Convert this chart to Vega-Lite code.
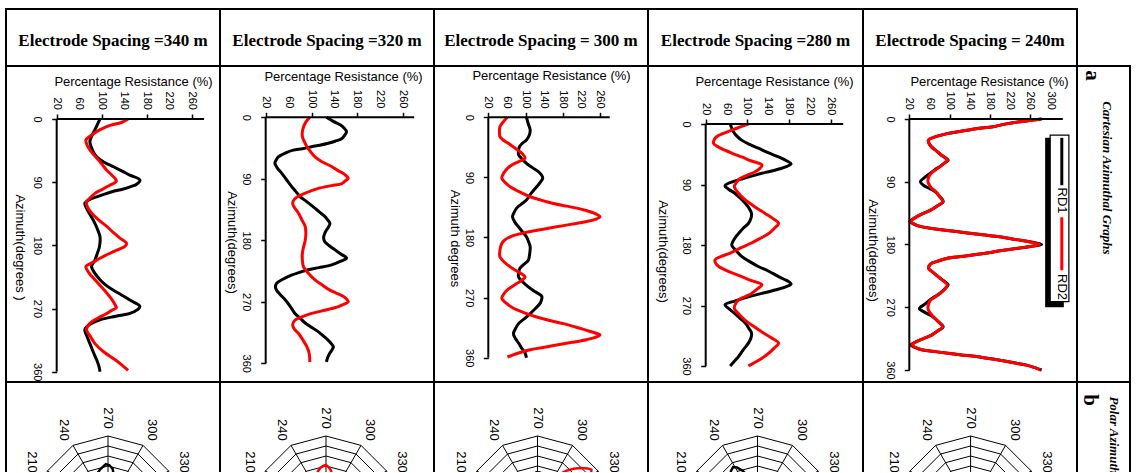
{
"$schema":"https://vega.github.io/schema/vega-lite/v6.json",
"padding":{"left":5,"top":8,"right":0,"bottom":0},
"bounds":"flush",
"spacing":0,
"columns":6,
"config":{
 "view":{"stroke":"black","strokeWidth":2},
 "font":"Liberation Sans",
 "concat":{"spacing":0},
 "axis":{"domain":false,"grid":false,"tickColor":"black","tickWidth":1.5,"tickSize":5,"labelFont":"Liberation Sans","labelFontSize":11,"labelColor":"black","labelFlush":false,"labelOverlap":false,"labelBound":false,"titleFont":"Liberation Sans","titleFontSize":13,"titleFontWeight":"normal","titleColor":"black"}
},
"datasets":{
"xticks":[{"v":20,"az":-13},{"v":60,"az":-13},{"v":100,"az":-13},{"v":140,"az":-13},{"v":180,"az":-13},{"v":220,"az":-13},{"v":260,"az":-13}],
"xticks5":[{"v":20,"az":-13},{"v":60,"az":-13},{"v":100,"az":-13},{"v":140,"az":-13},{"v":180,"az":-13},{"v":220,"az":-13},{"v":260,"az":-13},{"v":300,"az":-13}],
"grid":[
{"k":"ring","r":40,"az":180},{"k":"ring","r":40,"az":210},{"k":"ring","r":40,"az":240},{"k":"ring","r":40,"az":270},{"k":"ring","r":40,"az":300},{"k":"ring","r":40,"az":330},{"k":"ring","r":40,"az":360},
{"k":"ring","r":80,"az":180},{"k":"ring","r":80,"az":210},{"k":"ring","r":80,"az":240},{"k":"ring","r":80,"az":270},{"k":"ring","r":80,"az":300},{"k":"ring","r":80,"az":330},{"k":"ring","r":80,"az":360},
{"k":"ring","r":120,"az":180},{"k":"ring","r":120,"az":210},{"k":"ring","r":120,"az":240},{"k":"ring","r":120,"az":270},{"k":"ring","r":120,"az":300},{"k":"ring","r":120,"az":330},{"k":"ring","r":120,"az":360},
{"k":"ring","r":160,"az":180},{"k":"ring","r":160,"az":210},{"k":"ring","r":160,"az":240},{"k":"ring","r":160,"az":270},{"k":"ring","r":160,"az":300},{"k":"ring","r":160,"az":330},{"k":"ring","r":160,"az":360},
{"k":"ring","r":200,"az":180},{"k":"ring","r":200,"az":210},{"k":"ring","r":200,"az":240},{"k":"ring","r":200,"az":270},{"k":"ring","r":200,"az":300},{"k":"ring","r":200,"az":330},{"k":"ring","r":200,"az":360},
{"k":"ring","r":240,"az":180},{"k":"ring","r":240,"az":210},{"k":"ring","r":240,"az":240},{"k":"ring","r":240,"az":270},{"k":"ring","r":240,"az":300},{"k":"ring","r":240,"az":330},{"k":"ring","r":240,"az":360},
{"k":"ring","r":280,"az":180},{"k":"ring","r":280,"az":210},{"k":"ring","r":280,"az":240},{"k":"ring","r":280,"az":270},{"k":"ring","r":280,"az":300},{"k":"ring","r":280,"az":330},{"k":"ring","r":280,"az":360},
{"k":"spoke","r":0,"az":210},{"k":"spoke","r":280,"az":210},{"k":"spoke","r":0,"az":240},{"k":"spoke","r":280,"az":240},{"k":"spoke","r":0,"az":270},{"k":"spoke","r":280,"az":270},{"k":"spoke","r":0,"az":300},{"k":"spoke","r":280,"az":300},{"k":"spoke","r":0,"az":330},{"k":"spoke","r":280,"az":330},
{"k":"label","r":352,"az":210,"t":"210"},{"k":"label","r":352,"az":240,"t":"240"},{"k":"label","r":352,"az":270,"t":"270"},{"k":"label","r":352,"az":300,"t":"300"},{"k":"label","r":352,"az":330,"t":"330"}
],
"curves":[
{"p":"340","s":"RD1","az":0,"v":97},{"p":"340","s":"RD1","az":12,"v":90},{"p":"340","s":"RD1","az":25,"v":82},{"p":"340","s":"RD1","az":32,"v":79},{"p":"340","s":"RD1","az":45,"v":84},{"p":"340","s":"RD1","az":54,"v":91},{"p":"340","s":"RD1","az":62,"v":105},{"p":"340","s":"RD1","az":68,"v":121},{"p":"340","s":"RD1","az":75,"v":138},{"p":"340","s":"RD1","az":80,"v":150},{"p":"340","s":"RD1","az":87,"v":168},{"p":"340","s":"RD1","az":93,"v":162},{"p":"340","s":"RD1","az":96,"v":153},{"p":"340","s":"RD1","az":100,"v":137},{"p":"340","s":"RD1","az":103,"v":121},{"p":"340","s":"RD1","az":107,"v":105},{"p":"340","s":"RD1","az":111,"v":91},{"p":"340","s":"RD1","az":115,"v":78},{"p":"340","s":"RD1","az":120,"v":70},{"p":"340","s":"RD1","az":130,"v":75},{"p":"340","s":"RD1","az":144,"v":85},{"p":"340","s":"RD1","az":156,"v":92},{"p":"340","s":"RD1","az":168,"v":97},{"p":"340","s":"RD1","az":182,"v":96},{"p":"340","s":"RD1","az":192,"v":92},{"p":"340","s":"RD1","az":201,"v":88},{"p":"340","s":"RD1","az":210,"v":82},{"p":"340","s":"RD1","az":220,"v":88},{"p":"340","s":"RD1","az":229,"v":97},{"p":"340","s":"RD1","az":237,"v":108},{"p":"340","s":"RD1","az":244,"v":121},{"p":"340","s":"RD1","az":251,"v":136},{"p":"340","s":"RD1","az":258,"v":150},{"p":"340","s":"RD1","az":267,"v":168},{"p":"340","s":"RD1","az":272,"v":163},{"p":"340","s":"RD1","az":277,"v":150},{"p":"340","s":"RD1","az":281,"v":125},{"p":"340","s":"RD1","az":286,"v":97},{"p":"340","s":"RD1","az":292,"v":80},{"p":"340","s":"RD1","az":300,"v":70},{"p":"340","s":"RD1","az":310,"v":74},{"p":"340","s":"RD1","az":320,"v":79},{"p":"340","s":"RD1","az":332,"v":85},{"p":"340","s":"RD1","az":343,"v":91},{"p":"340","s":"RD1","az":352,"v":95},{"p":"340","s":"RD1","az":360,"v":97},
{"p":"340","s":"RD2","az":0,"v":147},{"p":"340","s":"RD2","az":5,"v":135},{"p":"340","s":"RD2","az":9,"v":115},{"p":"340","s":"RD2","az":14,"v":100},{"p":"340","s":"RD2","az":18,"v":91},{"p":"340","s":"RD2","az":24,"v":80},{"p":"340","s":"RD2","az":30,"v":72},{"p":"340","s":"RD2","az":37,"v":74},{"p":"340","s":"RD2","az":44,"v":79},{"p":"340","s":"RD2","az":51,"v":86},{"p":"340","s":"RD2","az":58,"v":94},{"p":"340","s":"RD2","az":66,"v":102},{"p":"340","s":"RD2","az":73,"v":109},{"p":"340","s":"RD2","az":80,"v":118},{"p":"340","s":"RD2","az":85,"v":124},{"p":"340","s":"RD2","az":89,"v":126},{"p":"340","s":"RD2","az":94,"v":115},{"p":"340","s":"RD2","az":100,"v":102},{"p":"340","s":"RD2","az":106,"v":88},{"p":"340","s":"RD2","az":112,"v":80},{"p":"340","s":"RD2","az":118,"v":73},{"p":"340","s":"RD2","az":126,"v":75},{"p":"340","s":"RD2","az":134,"v":82},{"p":"340","s":"RD2","az":144,"v":95},{"p":"340","s":"RD2","az":153,"v":109},{"p":"340","s":"RD2","az":162,"v":121},{"p":"340","s":"RD2","az":170,"v":133},{"p":"340","s":"RD2","az":177,"v":144},{"p":"340","s":"RD2","az":181,"v":142},{"p":"340","s":"RD2","az":185,"v":132},{"p":"340","s":"RD2","az":189,"v":121},{"p":"340","s":"RD2","az":195,"v":105},{"p":"340","s":"RD2","az":201,"v":91},{"p":"340","s":"RD2","az":206,"v":80},{"p":"340","s":"RD2","az":210,"v":72},{"p":"340","s":"RD2","az":220,"v":78},{"p":"340","s":"RD2","az":229,"v":88},{"p":"340","s":"RD2","az":238,"v":98},{"p":"340","s":"RD2","az":248,"v":109},{"p":"340","s":"RD2","az":256,"v":117},{"p":"340","s":"RD2","az":265,"v":124},{"p":"340","s":"RD2","az":269,"v":126},{"p":"340","s":"RD2","az":273,"v":117},{"p":"340","s":"RD2","az":277,"v":109},{"p":"340","s":"RD2","az":284,"v":93},{"p":"340","s":"RD2","az":291,"v":79},{"p":"340","s":"RD2","az":300,"v":73},{"p":"340","s":"RD2","az":310,"v":80},{"p":"340","s":"RD2","az":320,"v":88},{"p":"340","s":"RD2","az":332,"v":104},{"p":"340","s":"RD2","az":343,"v":124},{"p":"340","s":"RD2","az":352,"v":138},{"p":"340","s":"RD2","az":358,"v":147},
{"p":"320","s":"RD1","az":0,"v":126},{"p":"320","s":"RD1","az":6,"v":138},{"p":"320","s":"RD1","az":11,"v":150},{"p":"320","s":"RD1","az":16,"v":157},{"p":"320","s":"RD1","az":21,"v":161},{"p":"320","s":"RD1","az":26,"v":158},{"p":"320","s":"RD1","az":31,"v":153},{"p":"320","s":"RD1","az":35,"v":141},{"p":"320","s":"RD1","az":38,"v":129},{"p":"320","s":"RD1","az":41,"v":114},{"p":"320","s":"RD1","az":43,"v":100},{"p":"320","s":"RD1","az":46,"v":84},{"p":"320","s":"RD1","az":48,"v":68},{"p":"320","s":"RD1","az":52,"v":55},{"p":"320","s":"RD1","az":58,"v":42},{"p":"320","s":"RD1","az":63,"v":38},{"p":"320","s":"RD1","az":67,"v":36},{"p":"320","s":"RD1","az":74,"v":40},{"p":"320","s":"RD1","az":82,"v":48},{"p":"320","s":"RD1","az":91,"v":56},{"p":"320","s":"RD1","az":101,"v":65},{"p":"320","s":"RD1","az":108,"v":72},{"p":"320","s":"RD1","az":116,"v":80},{"p":"320","s":"RD1","az":123,"v":91},{"p":"320","s":"RD1","az":131,"v":103},{"p":"320","s":"RD1","az":138,"v":113},{"p":"320","s":"RD1","az":145,"v":123},{"p":"320","s":"RD1","az":150,"v":128},{"p":"320","s":"RD1","az":155,"v":132},{"p":"320","s":"RD1","az":160,"v":130},{"p":"320","s":"RD1","az":165,"v":126},{"p":"320","s":"RD1","az":170,"v":123},{"p":"320","s":"RD1","az":176,"v":121},{"p":"320","s":"RD1","az":182,"v":123},{"p":"320","s":"RD1","az":188,"v":131},{"p":"320","s":"RD1","az":194,"v":141},{"p":"320","s":"RD1","az":200,"v":151},{"p":"320","s":"RD1","az":206,"v":161},{"p":"320","s":"RD1","az":211,"v":150},{"p":"320","s":"RD1","az":216,"v":135},{"p":"320","s":"RD1","az":220,"v":113},{"p":"320","s":"RD1","az":223,"v":94},{"p":"320","s":"RD1","az":227,"v":79},{"p":"320","s":"RD1","az":231,"v":65},{"p":"320","s":"RD1","az":237,"v":50},{"p":"320","s":"RD1","az":243,"v":39},{"p":"320","s":"RD1","az":248,"v":37},{"p":"320","s":"RD1","az":253,"v":39},{"p":"320","s":"RD1","az":260,"v":46},{"p":"320","s":"RD1","az":267,"v":54},{"p":"320","s":"RD1","az":277,"v":63},{"p":"320","s":"RD1","az":287,"v":71},{"p":"320","s":"RD1","az":294,"v":80},{"p":"320","s":"RD1","az":301,"v":89},{"p":"320","s":"RD1","az":307,"v":99},{"p":"320","s":"RD1","az":314,"v":112},{"p":"320","s":"RD1","az":321,"v":122},{"p":"320","s":"RD1","az":329,"v":132},{"p":"320","s":"RD1","az":336,"v":138},{"p":"320","s":"RD1","az":340,"v":136},{"p":"320","s":"RD1","az":345,"v":132},{"p":"320","s":"RD1","az":352,"v":128},{"p":"320","s":"RD1","az":358,"v":126},
{"p":"320","s":"RD2","az":0,"v":97},{"p":"320","s":"RD2","az":7,"v":90},{"p":"320","s":"RD2","az":14,"v":86},{"p":"320","s":"RD2","az":21,"v":84},{"p":"320","s":"RD2","az":28,"v":84},{"p":"320","s":"RD2","az":35,"v":87},{"p":"320","s":"RD2","az":43,"v":92},{"p":"320","s":"RD2","az":50,"v":98},{"p":"320","s":"RD2","az":58,"v":106},{"p":"320","s":"RD2","az":65,"v":118},{"p":"320","s":"RD2","az":72,"v":135},{"p":"320","s":"RD2","az":78,"v":146},{"p":"320","s":"RD2","az":82,"v":155},{"p":"320","s":"RD2","az":86,"v":161},{"p":"320","s":"RD2","az":89,"v":164},{"p":"320","s":"RD2","az":93,"v":159},{"p":"320","s":"RD2","az":97,"v":153},{"p":"320","s":"RD2","az":100,"v":135},{"p":"320","s":"RD2","az":104,"v":112},{"p":"320","s":"RD2","az":108,"v":98},{"p":"320","s":"RD2","az":111,"v":89},{"p":"320","s":"RD2","az":115,"v":78},{"p":"320","s":"RD2","az":119,"v":71},{"p":"320","s":"RD2","az":126,"v":67},{"p":"320","s":"RD2","az":133,"v":71},{"p":"320","s":"RD2","az":140,"v":77},{"p":"320","s":"RD2","az":150,"v":83},{"p":"320","s":"RD2","az":160,"v":89},{"p":"320","s":"RD2","az":170,"v":90},{"p":"320","s":"RD2","az":180,"v":89},{"p":"320","s":"RD2","az":190,"v":86},{"p":"320","s":"RD2","az":199,"v":84},{"p":"320","s":"RD2","az":209,"v":84},{"p":"320","s":"RD2","az":219,"v":86},{"p":"320","s":"RD2","az":228,"v":94},{"p":"320","s":"RD2","az":238,"v":106},{"p":"320","s":"RD2","az":245,"v":118},{"p":"320","s":"RD2","az":253,"v":132},{"p":"320","s":"RD2","az":258,"v":145},{"p":"320","s":"RD2","az":262,"v":155},{"p":"320","s":"RD2","az":266,"v":161},{"p":"320","s":"RD2","az":270,"v":164},{"p":"320","s":"RD2","az":274,"v":155},{"p":"320","s":"RD2","az":277,"v":147},{"p":"320","s":"RD2","az":282,"v":125},{"p":"320","s":"RD2","az":287,"v":100},{"p":"320","s":"RD2","az":292,"v":83},{"p":"320","s":"RD2","az":297,"v":71},{"p":"320","s":"RD2","az":304,"v":67},{"p":"320","s":"RD2","az":310,"v":70},{"p":"320","s":"RD2","az":316,"v":77},{"p":"320","s":"RD2","az":326,"v":85},{"p":"320","s":"RD2","az":336,"v":92},{"p":"320","s":"RD2","az":346,"v":96},{"p":"320","s":"RD2","az":358,"v":97},
{"p":"300","s":"RD1","az":0,"v":102},{"p":"300","s":"RD1","az":10,"v":106},{"p":"300","s":"RD1","az":19,"v":110},{"p":"300","s":"RD1","az":27,"v":108},{"p":"300","s":"RD1","az":34,"v":102},{"p":"300","s":"RD1","az":39,"v":93},{"p":"300","s":"RD1","az":44,"v":87},{"p":"300","s":"RD1","az":50,"v":85},{"p":"300","s":"RD1","az":56,"v":85},{"p":"300","s":"RD1","az":62,"v":92},{"p":"300","s":"RD1","az":69,"v":102},{"p":"300","s":"RD1","az":75,"v":114},{"p":"300","s":"RD1","az":81,"v":127},{"p":"300","s":"RD1","az":86,"v":134},{"p":"300","s":"RD1","az":91,"v":137},{"p":"300","s":"RD1","az":97,"v":132},{"p":"300","s":"RD1","az":104,"v":124},{"p":"300","s":"RD1","az":114,"v":112},{"p":"300","s":"RD1","az":124,"v":102},{"p":"300","s":"RD1","az":130,"v":91},{"p":"300","s":"RD1","az":136,"v":81},{"p":"300","s":"RD1","az":143,"v":75},{"p":"300","s":"RD1","az":149,"v":72},{"p":"300","s":"RD1","az":157,"v":77},{"p":"300","s":"RD1","az":164,"v":85},{"p":"300","s":"RD1","az":172,"v":94},{"p":"300","s":"RD1","az":179,"v":102},{"p":"300","s":"RD1","az":187,"v":107},{"p":"300","s":"RD1","az":194,"v":110},{"p":"300","s":"RD1","az":204,"v":109},{"p":"300","s":"RD1","az":214,"v":106},{"p":"300","s":"RD1","az":220,"v":97},{"p":"300","s":"RD1","az":226,"v":88},{"p":"300","s":"RD1","az":233,"v":85},{"p":"300","s":"RD1","az":239,"v":85},{"p":"300","s":"RD1","az":246,"v":93},{"p":"300","s":"RD1","az":254,"v":106},{"p":"300","s":"RD1","az":261,"v":120},{"p":"300","s":"RD1","az":268,"v":135},{"p":"300","s":"RD1","az":274,"v":134},{"p":"300","s":"RD1","az":279,"v":131},{"p":"300","s":"RD1","az":287,"v":120},{"p":"300","s":"RD1","az":294,"v":110},{"p":"300","s":"RD1","az":302,"v":97},{"p":"300","s":"RD1","az":309,"v":85},{"p":"300","s":"RD1","az":317,"v":78},{"p":"300","s":"RD1","az":324,"v":74},{"p":"300","s":"RD1","az":331,"v":78},{"p":"300","s":"RD1","az":338,"v":85},{"p":"300","s":"RD1","az":346,"v":92},{"p":"300","s":"RD1","az":353,"v":99},{"p":"300","s":"RD1","az":360,"v":102},
{"p":"300","s":"RD2","az":0,"v":61},{"p":"300","s":"RD2","az":7,"v":52},{"p":"300","s":"RD2","az":14,"v":45},{"p":"300","s":"RD2","az":22,"v":44},{"p":"300","s":"RD2","az":29,"v":45},{"p":"300","s":"RD2","az":34,"v":52},{"p":"300","s":"RD2","az":39,"v":63},{"p":"300","s":"RD2","az":45,"v":75},{"p":"300","s":"RD2","az":51,"v":87},{"p":"300","s":"RD2","az":56,"v":95},{"p":"300","s":"RD2","az":61,"v":99},{"p":"300","s":"RD2","az":65,"v":90},{"p":"300","s":"RD2","az":69,"v":77},{"p":"300","s":"RD2","az":74,"v":65},{"p":"300","s":"RD2","az":79,"v":58},{"p":"300","s":"RD2","az":85,"v":52},{"p":"300","s":"RD2","az":91,"v":49},{"p":"300","s":"RD2","az":97,"v":55},{"p":"300","s":"RD2","az":104,"v":67},{"p":"300","s":"RD2","az":111,"v":85},{"p":"300","s":"RD2","az":119,"v":110},{"p":"300","s":"RD2","az":124,"v":133},{"p":"300","s":"RD2","az":129,"v":160},{"p":"300","s":"RD2","az":133,"v":188},{"p":"300","s":"RD2","az":136,"v":210},{"p":"300","s":"RD2","az":140,"v":232},{"p":"300","s":"RD2","az":144,"v":249},{"p":"300","s":"RD2","az":149,"v":260},{"p":"300","s":"RD2","az":153,"v":250},{"p":"300","s":"RD2","az":156,"v":231},{"p":"300","s":"RD2","az":160,"v":200},{"p":"300","s":"RD2","az":164,"v":167},{"p":"300","s":"RD2","az":168,"v":135},{"p":"300","s":"RD2","az":171,"v":110},{"p":"300","s":"RD2","az":175,"v":85},{"p":"300","s":"RD2","az":179,"v":67},{"p":"300","s":"RD2","az":184,"v":55},{"p":"300","s":"RD2","az":189,"v":49},{"p":"300","s":"RD2","az":199,"v":45},{"p":"300","s":"RD2","az":209,"v":45},{"p":"300","s":"RD2","az":216,"v":53},{"p":"300","s":"RD2","az":224,"v":67},{"p":"300","s":"RD2","az":231,"v":83},{"p":"300","s":"RD2","az":239,"v":99},{"p":"300","s":"RD2","az":244,"v":92},{"p":"300","s":"RD2","az":249,"v":81},{"p":"300","s":"RD2","az":254,"v":70},{"p":"300","s":"RD2","az":259,"v":60},{"p":"300","s":"RD2","az":265,"v":53},{"p":"300","s":"RD2","az":271,"v":49},{"p":"300","s":"RD2","az":278,"v":58},{"p":"300","s":"RD2","az":286,"v":74},{"p":"300","s":"RD2","az":292,"v":95},{"p":"300","s":"RD2","az":299,"v":124},{"p":"300","s":"RD2","az":304,"v":150},{"p":"300","s":"RD2","az":309,"v":181},{"p":"300","s":"RD2","az":314,"v":207},{"p":"300","s":"RD2","az":319,"v":231},{"p":"300","s":"RD2","az":323,"v":250},{"p":"300","s":"RD2","az":326,"v":260},{"p":"300","s":"RD2","az":330,"v":248},{"p":"300","s":"RD2","az":333,"v":231},{"p":"300","s":"RD2","az":337,"v":200},{"p":"300","s":"RD2","az":341,"v":167},{"p":"300","s":"RD2","az":345,"v":135},{"p":"300","s":"RD2","az":348,"v":110},{"p":"300","s":"RD2","az":353,"v":85},{"p":"300","s":"RD2","az":359,"v":61},
{"p":"280","s":"RD1","az":0,"v":67},{"p":"280","s":"RD1","az":11,"v":73},{"p":"280","s":"RD1","az":18,"v":80},{"p":"280","s":"RD1","az":24,"v":89},{"p":"280","s":"RD1","az":30,"v":103},{"p":"280","s":"RD1","az":36,"v":121},{"p":"280","s":"RD1","az":43,"v":141},{"p":"280","s":"RD1","az":49,"v":160},{"p":"280","s":"RD1","az":55,"v":176},{"p":"280","s":"RD1","az":59,"v":184},{"p":"280","s":"RD1","az":63,"v":176},{"p":"280","s":"RD1","az":68,"v":156},{"p":"280","s":"RD1","az":72,"v":135},{"p":"280","s":"RD1","az":76,"v":115},{"p":"280","s":"RD1","az":81,"v":92},{"p":"280","s":"RD1","az":86,"v":71},{"p":"280","s":"RD1","az":92,"v":57},{"p":"280","s":"RD1","az":97,"v":64},{"p":"280","s":"RD1","az":103,"v":76},{"p":"280","s":"RD1","az":110,"v":86},{"p":"280","s":"RD1","az":118,"v":96},{"p":"280","s":"RD1","az":125,"v":103},{"p":"280","s":"RD1","az":133,"v":108},{"p":"280","s":"RD1","az":140,"v":107},{"p":"280","s":"RD1","az":148,"v":102},{"p":"280","s":"RD1","az":155,"v":92},{"p":"280","s":"RD1","az":163,"v":83},{"p":"280","s":"RD1","az":171,"v":75},{"p":"280","s":"RD1","az":180,"v":70},{"p":"280","s":"RD1","az":188,"v":78},{"p":"280","s":"RD1","az":197,"v":89},{"p":"280","s":"RD1","az":204,"v":103},{"p":"280","s":"RD1","az":212,"v":121},{"p":"280","s":"RD1","az":219,"v":141},{"p":"280","s":"RD1","az":227,"v":160},{"p":"280","s":"RD1","az":233,"v":176},{"p":"280","s":"RD1","az":238,"v":184},{"p":"280","s":"RD1","az":242,"v":175},{"p":"280","s":"RD1","az":247,"v":153},{"p":"280","s":"RD1","az":252,"v":128},{"p":"280","s":"RD1","az":257,"v":102},{"p":"280","s":"RD1","az":263,"v":77},{"p":"280","s":"RD1","az":269,"v":57},{"p":"280","s":"RD1","az":275,"v":65},{"p":"280","s":"RD1","az":282,"v":76},{"p":"280","s":"RD1","az":289,"v":86},{"p":"280","s":"RD1","az":296,"v":96},{"p":"280","s":"RD1","az":303,"v":102},{"p":"280","s":"RD1","az":311,"v":108},{"p":"280","s":"RD1","az":318,"v":107},{"p":"280","s":"RD1","az":326,"v":102},{"p":"280","s":"RD1","az":336,"v":92},{"p":"280","s":"RD1","az":346,"v":83},{"p":"280","s":"RD1","az":353,"v":75},{"p":"280","s":"RD1","az":360,"v":67},
{"p":"280","s":"RD2","az":0,"v":102},{"p":"280","s":"RD2","az":4,"v":88},{"p":"280","s":"RD2","az":9,"v":70},{"p":"280","s":"RD2","az":14,"v":54},{"p":"280","s":"RD2","az":19,"v":41},{"p":"280","s":"RD2","az":24,"v":36},{"p":"280","s":"RD2","az":29,"v":35},{"p":"280","s":"RD2","az":34,"v":44},{"p":"280","s":"RD2","az":39,"v":57},{"p":"280","s":"RD2","az":44,"v":72},{"p":"280","s":"RD2","az":49,"v":89},{"p":"280","s":"RD2","az":55,"v":108},{"p":"280","s":"RD2","az":61,"v":128},{"p":"280","s":"RD2","az":66,"v":124},{"p":"280","s":"RD2","az":71,"v":115},{"p":"280","s":"RD2","az":76,"v":100},{"p":"280","s":"RD2","az":81,"v":86},{"p":"280","s":"RD2","az":87,"v":79},{"p":"280","s":"RD2","az":93,"v":75},{"p":"280","s":"RD2","az":103,"v":83},{"p":"280","s":"RD2","az":113,"v":96},{"p":"280","s":"RD2","az":123,"v":114},{"p":"280","s":"RD2","az":133,"v":134},{"p":"280","s":"RD2","az":140,"v":148},{"p":"280","s":"RD2","az":148,"v":160},{"p":"280","s":"RD2","az":155,"v":152},{"p":"280","s":"RD2","az":163,"v":141},{"p":"280","s":"RD2","az":170,"v":125},{"p":"280","s":"RD2","az":177,"v":108},{"p":"280","s":"RD2","az":184,"v":88},{"p":"280","s":"RD2","az":192,"v":67},{"p":"280","s":"RD2","az":197,"v":50},{"p":"280","s":"RD2","az":202,"v":38},{"p":"280","s":"RD2","az":207,"v":39},{"p":"280","s":"RD2","az":212,"v":45},{"p":"280","s":"RD2","az":220,"v":66},{"p":"280","s":"RD2","az":227,"v":89},{"p":"280","s":"RD2","az":233,"v":108},{"p":"280","s":"RD2","az":239,"v":128},{"p":"280","s":"RD2","az":245,"v":120},{"p":"280","s":"RD2","az":252,"v":108},{"p":"280","s":"RD2","az":257,"v":95},{"p":"280","s":"RD2","az":262,"v":83},{"p":"280","s":"RD2","az":268,"v":77},{"p":"280","s":"RD2","az":274,"v":75},{"p":"280","s":"RD2","az":283,"v":84},{"p":"280","s":"RD2","az":292,"v":96},{"p":"280","s":"RD2","az":301,"v":112},{"p":"280","s":"RD2","az":311,"v":131},{"p":"280","s":"RD2","az":318,"v":146},{"p":"280","s":"RD2","az":326,"v":160},{"p":"280","s":"RD2","az":333,"v":152},{"p":"280","s":"RD2","az":341,"v":141},{"p":"280","s":"RD2","az":350,"v":125},{"p":"280","s":"RD2","az":360,"v":102},
{"p":"240","s":"RD1","az":0,"v":282},{"p":"240","s":"RD1","az":2,"v":262},{"p":"240","s":"RD1","az":4,"v":239},{"p":"240","s":"RD1","az":7,"v":212},{"p":"240","s":"RD1","az":11,"v":186},{"p":"240","s":"RD1","az":14,"v":152},{"p":"240","s":"RD1","az":18,"v":120},{"p":"240","s":"RD1","az":21,"v":95},{"p":"240","s":"RD1","az":25,"v":74},{"p":"240","s":"RD1","az":30,"v":58},{"p":"240","s":"RD1","az":35,"v":59},{"p":"240","s":"RD1","az":40,"v":64},{"p":"240","s":"RD1","az":46,"v":74},{"p":"240","s":"RD1","az":52,"v":84},{"p":"240","s":"RD1","az":56,"v":92},{"p":"240","s":"RD1","az":59,"v":97},{"p":"240","s":"RD1","az":63,"v":90},{"p":"240","s":"RD1","az":68,"v":81},{"p":"240","s":"RD1","az":73,"v":70},{"p":"240","s":"RD1","az":78,"v":61},{"p":"240","s":"RD1","az":84,"v":50},{"p":"240","s":"RD1","az":90,"v":42},{"p":"240","s":"RD1","az":95,"v":48},{"p":"240","s":"RD1","az":99,"v":58},{"p":"240","s":"RD1","az":104,"v":71},{"p":"240","s":"RD1","az":111,"v":80},{"p":"240","s":"RD1","az":116,"v":86},{"p":"240","s":"RD1","az":119,"v":87},{"p":"240","s":"RD1","az":124,"v":77},{"p":"240","s":"RD1","az":130,"v":64},{"p":"240","s":"RD1","az":135,"v":49},{"p":"240","s":"RD1","az":140,"v":35},{"p":"240","s":"RD1","az":144,"v":26},{"p":"240","s":"RD1","az":147,"v":21},{"p":"240","s":"RD1","az":151,"v":30},{"p":"240","s":"RD1","az":154,"v":41},{"p":"240","s":"RD1","az":158,"v":75},{"p":"240","s":"RD1","az":162,"v":120},{"p":"240","s":"RD1","az":166,"v":165},{"p":"240","s":"RD1","az":169,"v":199},{"p":"240","s":"RD1","az":173,"v":232},{"p":"240","s":"RD1","az":176,"v":259},{"p":"240","s":"RD1","az":180,"v":282},{"p":"240","s":"RD1","az":183,"v":260},{"p":"240","s":"RD1","az":185,"v":239},{"p":"240","s":"RD1","az":189,"v":200},{"p":"240","s":"RD1","az":193,"v":167},{"p":"240","s":"RD1","az":197,"v":128},{"p":"240","s":"RD1","az":200,"v":94},{"p":"240","s":"RD1","az":204,"v":76},{"p":"240","s":"RD1","az":207,"v":64},{"p":"240","s":"RD1","az":211,"v":59},{"p":"240","s":"RD1","az":214,"v":58},{"p":"240","s":"RD1","az":220,"v":67},{"p":"240","s":"RD1","az":226,"v":77},{"p":"240","s":"RD1","az":232,"v":88},{"p":"240","s":"RD1","az":238,"v":97},{"p":"240","s":"RD1","az":244,"v":90},{"p":"240","s":"RD1","az":250,"v":81},{"p":"240","s":"RD1","az":255,"v":70},{"p":"240","s":"RD1","az":260,"v":60},{"p":"240","s":"RD1","az":266,"v":50},{"p":"240","s":"RD1","az":272,"v":40},{"p":"240","s":"RD1","az":277,"v":50},{"p":"240","s":"RD1","az":283,"v":65},{"p":"240","s":"RD1","az":291,"v":78},{"p":"240","s":"RD1","az":298,"v":87},{"p":"240","s":"RD1","az":304,"v":76},{"p":"240","s":"RD1","az":310,"v":64},{"p":"240","s":"RD1","az":315,"v":48},{"p":"240","s":"RD1","az":319,"v":35},{"p":"240","s":"RD1","az":322,"v":27},{"p":"240","s":"RD1","az":324,"v":23},{"p":"240","s":"RD1","az":328,"v":32},{"p":"240","s":"RD1","az":331,"v":44},{"p":"240","s":"RD1","az":334,"v":75},{"p":"240","s":"RD1","az":338,"v":120},{"p":"240","s":"RD1","az":342,"v":165},{"p":"240","s":"RD1","az":346,"v":199},{"p":"240","s":"RD1","az":350,"v":230},{"p":"240","s":"RD1","az":353,"v":252},{"p":"240","s":"RD1","az":357,"v":270},{"p":"240","s":"RD1","az":360,"v":282},
{"p":"240","s":"RD2","az":0,"v":282},{"p":"240","s":"RD2","az":2,"v":262},{"p":"240","s":"RD2","az":4,"v":239},{"p":"240","s":"RD2","az":7,"v":212},{"p":"240","s":"RD2","az":11,"v":186},{"p":"240","s":"RD2","az":14,"v":152},{"p":"240","s":"RD2","az":18,"v":120},{"p":"240","s":"RD2","az":21,"v":95},{"p":"240","s":"RD2","az":25,"v":74},{"p":"240","s":"RD2","az":30,"v":58},{"p":"240","s":"RD2","az":35,"v":59},{"p":"240","s":"RD2","az":40,"v":64},{"p":"240","s":"RD2","az":46,"v":74},{"p":"240","s":"RD2","az":52,"v":84},{"p":"240","s":"RD2","az":56,"v":92},{"p":"240","s":"RD2","az":59,"v":96},{"p":"240","s":"RD2","az":63,"v":90},{"p":"240","s":"RD2","az":68,"v":81},{"p":"240","s":"RD2","az":73,"v":72},{"p":"240","s":"RD2","az":78,"v":63},{"p":"240","s":"RD2","az":84,"v":58},{"p":"240","s":"RD2","az":90,"v":57},{"p":"240","s":"RD2","az":95,"v":60},{"p":"240","s":"RD2","az":99,"v":64},{"p":"240","s":"RD2","az":104,"v":72},{"p":"240","s":"RD2","az":111,"v":80},{"p":"240","s":"RD2","az":116,"v":85},{"p":"240","s":"RD2","az":119,"v":86},{"p":"240","s":"RD2","az":124,"v":77},{"p":"240","s":"RD2","az":130,"v":64},{"p":"240","s":"RD2","az":135,"v":49},{"p":"240","s":"RD2","az":140,"v":35},{"p":"240","s":"RD2","az":144,"v":27},{"p":"240","s":"RD2","az":147,"v":23},{"p":"240","s":"RD2","az":151,"v":31},{"p":"240","s":"RD2","az":154,"v":42},{"p":"240","s":"RD2","az":158,"v":75},{"p":"240","s":"RD2","az":162,"v":120},{"p":"240","s":"RD2","az":166,"v":165},{"p":"240","s":"RD2","az":169,"v":199},{"p":"240","s":"RD2","az":173,"v":232},{"p":"240","s":"RD2","az":176,"v":257},{"p":"240","s":"RD2","az":180,"v":278},{"p":"240","s":"RD2","az":183,"v":258},{"p":"240","s":"RD2","az":185,"v":239},{"p":"240","s":"RD2","az":189,"v":200},{"p":"240","s":"RD2","az":193,"v":167},{"p":"240","s":"RD2","az":197,"v":128},{"p":"240","s":"RD2","az":200,"v":94},{"p":"240","s":"RD2","az":204,"v":76},{"p":"240","s":"RD2","az":207,"v":64},{"p":"240","s":"RD2","az":211,"v":59},{"p":"240","s":"RD2","az":214,"v":58},{"p":"240","s":"RD2","az":220,"v":67},{"p":"240","s":"RD2","az":226,"v":77},{"p":"240","s":"RD2","az":232,"v":87},{"p":"240","s":"RD2","az":238,"v":95},{"p":"240","s":"RD2","az":244,"v":90},{"p":"240","s":"RD2","az":250,"v":81},{"p":"240","s":"RD2","az":255,"v":72},{"p":"240","s":"RD2","az":260,"v":62},{"p":"240","s":"RD2","az":266,"v":58},{"p":"240","s":"RD2","az":272,"v":57},{"p":"240","s":"RD2","az":277,"v":60},{"p":"240","s":"RD2","az":283,"v":67},{"p":"240","s":"RD2","az":291,"v":78},{"p":"240","s":"RD2","az":298,"v":86},{"p":"240","s":"RD2","az":304,"v":76},{"p":"240","s":"RD2","az":310,"v":64},{"p":"240","s":"RD2","az":315,"v":48},{"p":"240","s":"RD2","az":319,"v":35},{"p":"240","s":"RD2","az":322,"v":28},{"p":"240","s":"RD2","az":324,"v":25},{"p":"240","s":"RD2","az":328,"v":33},{"p":"240","s":"RD2","az":331,"v":45},{"p":"240","s":"RD2","az":334,"v":75},{"p":"240","s":"RD2","az":338,"v":120},{"p":"240","s":"RD2","az":342,"v":165},{"p":"240","s":"RD2","az":346,"v":199},{"p":"240","s":"RD2","az":350,"v":230},{"p":"240","s":"RD2","az":353,"v":252},{"p":"240","s":"RD2","az":357,"v":270},{"p":"240","s":"RD2","az":360,"v":280}
]
},
"concat":[
 {"width":214,"height":57,"data":{"values":[{"t":"Electrode Spacing =340 m"}]},"mark":{"type":"text","font":"Liberation Serif","fontWeight":"bold","fontSize":17,"dy":3,"color":"black"},"encoding":{"text":{"field":"t","type":"nominal"},"x":{"datum":0.5,"type":"quantitative","scale":{"domain":[0,1],"nice":false,"zero":false},"axis":null},"y":{"datum":0.5,"type":"quantitative","scale":{"domain":[0,1],"nice":false,"zero":false},"axis":null}}},
 {"width":214,"height":57,"data":{"values":[{"t":"Electrode Spacing =320 m"}]},"mark":{"type":"text","font":"Liberation Serif","fontWeight":"bold","fontSize":17,"dy":3,"color":"black"},"encoding":{"text":{"field":"t","type":"nominal"},"x":{"datum":0.5,"type":"quantitative","scale":{"domain":[0,1],"nice":false,"zero":false},"axis":null},"y":{"datum":0.5,"type":"quantitative","scale":{"domain":[0,1],"nice":false,"zero":false},"axis":null}}},
 {"width":214,"height":57,"data":{"values":[{"t":"Electrode Spacing = 300 m"}]},"mark":{"type":"text","font":"Liberation Serif","fontWeight":"bold","fontSize":17,"dy":3,"color":"black"},"encoding":{"text":{"field":"t","type":"nominal"},"x":{"datum":0.5,"type":"quantitative","scale":{"domain":[0,1],"nice":false,"zero":false},"axis":null},"y":{"datum":0.5,"type":"quantitative","scale":{"domain":[0,1],"nice":false,"zero":false},"axis":null}}},
 {"width":215,"height":57,"data":{"values":[{"t":"Electrode Spacing =280 m"}]},"mark":{"type":"text","font":"Liberation Serif","fontWeight":"bold","fontSize":17,"dy":3,"color":"black"},"encoding":{"text":{"field":"t","type":"nominal"},"x":{"datum":0.5,"type":"quantitative","scale":{"domain":[0,1],"nice":false,"zero":false},"axis":null},"y":{"datum":0.5,"type":"quantitative","scale":{"domain":[0,1],"nice":false,"zero":false},"axis":null}}},
 {"width":214,"height":57,"data":{"values":[{"t":"Electrode Spacing = 240m"}]},"mark":{"type":"text","font":"Liberation Serif","fontWeight":"bold","fontSize":17,"dy":3,"color":"black"},"encoding":{"text":{"field":"t","type":"nominal"},"x":{"datum":0.5,"type":"quantitative","scale":{"domain":[0,1],"nice":false,"zero":false},"axis":null},"y":{"datum":0.5,"type":"quantitative","scale":{"domain":[0,1],"nice":false,"zero":false},"axis":null}}},
 {"width":53,"height":57,"view":{"stroke":null},"data":{"values":[{"t":""}]},"mark":{"type":"text"},"encoding":{"text":{"field":"t","type":"nominal"}}},
 {"width":214,"height":316,"layer":[
  {"data":{"name":"curves"},"transform":[{"filter":"datum.p=='340'"}],"mark":{"type":"line","strokeWidth":3,"interpolate":"catmull-rom"},
   "encoding":{
    "x":{"field":"v","type":"quantitative","scale":{"domain":[-70.1,310.3],"nice":false,"zero":false},"axis":{"orient":"top","offset":-53,"values":[20,60,100,140,180,220,260],"labels":false,"title":"Percentage Resistance (%)","titleX":127,"titleY":-38,"titleAngle":0,"titleAlign":"center","titleBaseline":"middle"}},
    "y":{"field":"az","type":"quantitative","scale":{"domain":[-75.5,374.7],"reverse":true,"nice":false,"zero":false},"axis":{"orient":"left","offset":-50.7,"values":[0,90,180,270,360],"labelAngle":90,"labelAlign":"center","labelBaseline":"top","labelPadding":9,"title":"Azimuth(degrees )","titleX":-37.7,"titleY":181,"titleAngle":90,"titleAlign":"center","titleBaseline":"middle"}},
    "color":{"field":"s","type":"nominal","scale":{"domain":["RD1","RD2"],"range":["#000000","#ff0000"]},"legend":null},
    "order":{"field":"az","type":"quantitative"}}},
  {"data":{"values":[{"g":"y","v":20,"az":0},{"g":"y","v":20,"az":360},{"g":"x","v":20,"az":0},{"g":"x","v":282,"az":0}]},"mark":{"type":"line","strokeWidth":2,"color":"black"},"encoding":{"x":{"field":"v","type":"quantitative"},"y":{"field":"az","type":"quantitative"},"detail":{"field":"g","type":"nominal"}}},
  {"data":{"name":"xticks"},"mark":{"type":"text","angle":90,"align":"right","baseline":"middle","fontSize":11,"color":"black"},"encoding":{"x":{"field":"v","type":"quantitative"},"y":{"field":"az","type":"quantitative"},"text":{"field":"v","type":"quantitative"}}}
 ]},
 {"width":214,"height":316,"layer":[
  {"data":{"name":"curves"},"transform":[{"filter":"datum.p=='320'"}],"mark":{"type":"line","strokeWidth":3,"interpolate":"catmull-rom"},
   "encoding":{
    "x":{"field":"v","type":"quantitative","scale":{"domain":[-59.7,313.6],"nice":false,"zero":false},"axis":{"orient":"top","offset":-51.3,"values":[20,60,100,140,180,220,260],"labels":false,"title":"Percentage Resistance (%)","titleX":123,"titleY":-41.3,"titleAngle":0,"titleAlign":"center","titleBaseline":"middle"}},
    "y":{"field":"az","type":"quantitative","scale":{"domain":[-75.1,387.4],"reverse":true,"nice":false,"zero":false},"axis":{"orient":"left","offset":-45.7,"values":[0,90,180,270,360],"labelAngle":90,"labelAlign":"center","labelBaseline":"top","labelPadding":9,"title":"Azimuth(degrees)","titleX":-34.7,"titleY":176,"titleAngle":90,"titleAlign":"center","titleBaseline":"middle"}},
    "color":{"field":"s","type":"nominal","scale":{"domain":["RD1","RD2"],"range":["#000000","#ff0000"]},"legend":null},
    "order":{"field":"az","type":"quantitative"}}},
  {"data":{"values":[{"g":"y","v":20,"az":0},{"g":"y","v":20,"az":360},{"g":"x","v":20,"az":0},{"g":"x","v":279,"az":0}]},"mark":{"type":"line","strokeWidth":2,"color":"black"},"encoding":{"x":{"field":"v","type":"quantitative"},"y":{"field":"az","type":"quantitative"},"detail":{"field":"g","type":"nominal"}}},
  {"data":{"name":"xticks"},"mark":{"type":"text","angle":90,"align":"right","baseline":"middle","fontSize":11,"color":"black"},"encoding":{"x":{"field":"v","type":"quantitative"},"y":{"field":"az","type":"quantitative"},"text":{"field":"v","type":"quantitative"}}}
 ]},
 {"width":214,"height":316,"layer":[
  {"data":{"name":"curves"},"transform":[{"filter":"datum.p=='300'"}],"mark":{"type":"line","strokeWidth":3,"interpolate":"catmull-rom"},
   "encoding":{
    "x":{"field":"v","type":"quantitative","scale":{"domain":[-96.7,363.2],"nice":false,"zero":false},"axis":{"orient":"top","offset":-51.3,"values":[20,60,100,140,180,220,260],"labels":false,"title":"Percentage Resistance (%)","titleX":117,"titleY":-42.3,"titleAngle":0,"titleAlign":"center","titleBaseline":"middle"}},
    "y":{"field":"az","type":"quantitative","scale":{"domain":[-76.8,396.4],"reverse":true,"nice":false,"zero":false},"axis":{"orient":"left","offset":-54.3,"values":[0,90,180,270,360],"labelAngle":90,"labelAlign":"center","labelBaseline":"top","labelPadding":9,"title":"Azimuth degrees","titleX":-34.3,"titleY":172,"titleAngle":90,"titleAlign":"center","titleBaseline":"middle"}},
    "color":{"field":"s","type":"nominal","scale":{"domain":["RD1","RD2"],"range":["#000000","#ff0000"]},"legend":null},
    "order":{"field":"az","type":"quantitative"}}},
  {"data":{"values":[{"g":"y","v":20,"az":0},{"g":"y","v":20,"az":360},{"g":"x","v":20,"az":0},{"g":"x","v":281,"az":0}]},"mark":{"type":"line","strokeWidth":2,"color":"black"},"encoding":{"x":{"field":"v","type":"quantitative"},"y":{"field":"az","type":"quantitative"},"detail":{"field":"g","type":"nominal"}}},
  {"data":{"name":"xticks"},"mark":{"type":"text","angle":90,"align":"right","baseline":"middle","fontSize":11,"color":"black"},"encoding":{"x":{"field":"v","type":"quantitative"},"y":{"field":"az","type":"quantitative"},"text":{"field":"v","type":"quantitative"}}}
 ]},
 {"width":215,"height":316,"layer":[
  {"data":{"name":"curves"},"transform":[{"filter":"datum.p=='280'"}],"mark":{"type":"line","strokeWidth":3,"interpolate":"catmull-rom"},
   "encoding":{
    "x":{"field":"v","type":"quantitative","scale":{"domain":[-90.8,322.1],"nice":false,"zero":false},"axis":{"orient":"top","offset":-58,"values":[20,60,100,140,180,220,260],"labels":false,"title":"Percentage Resistance (%)","titleX":126,"titleY":-43,"titleAngle":0,"titleAlign":"center","titleBaseline":"middle"}},
    "y":{"field":"az","type":"quantitative","scale":{"domain":[-86.3,383.8],"reverse":true,"nice":false,"zero":false},"axis":{"orient":"left","offset":-57.7,"values":[0,90,180,270,360],"labelAngle":90,"labelAlign":"center","labelBaseline":"top","labelPadding":9,"title":"Azimuth(degrees)","titleX":-43.7,"titleY":185,"titleAngle":90,"titleAlign":"center","titleBaseline":"middle"}},
    "color":{"field":"s","type":"nominal","scale":{"domain":["RD1","RD2"],"range":["#000000","#ff0000"]},"legend":null},
    "order":{"field":"az","type":"quantitative"}}},
  {"data":{"values":[{"g":"y","v":20,"az":0},{"g":"y","v":20,"az":360},{"g":"x","v":20,"az":0},{"g":"x","v":284,"az":0}]},"mark":{"type":"line","strokeWidth":2,"color":"black"},"encoding":{"x":{"field":"v","type":"quantitative"},"y":{"field":"az","type":"quantitative"},"detail":{"field":"g","type":"nominal"}}},
  {"data":{"name":"xticks"},"mark":{"type":"text","angle":90,"align":"right","baseline":"middle","fontSize":11,"color":"black"},"encoding":{"x":{"field":"v","type":"quantitative"},"y":{"field":"az","type":"quantitative"},"text":{"field":"v","type":"quantitative"}}}
 ]},
 {"width":214,"height":316,"layer":[
  {"data":{"name":"curves"},"transform":[{"filter":"datum.p=='240'"}],"mark":{"type":"line","strokeWidth":3,"interpolate":"catmull-rom"},
   "encoding":{
    "x":{"field":"v","type":"quantitative","scale":{"domain":[-71.7,352.1],"nice":false,"zero":false},"axis":{"orient":"top","offset":-53,"values":[20,60,100,140,180,220,260,300],"labels":false,"title":"Percentage Resistance (%)","titleX":126,"titleY":-38,"titleAngle":0,"titleAlign":"center","titleBaseline":"middle"}},
    "y":{"field":"az","type":"quantitative","scale":{"domain":[-76.0,377.2],"reverse":true,"nice":false,"zero":false},"axis":{"orient":"left","offset":-46.3,"values":[0,90,180,270,360],"labelAngle":90,"labelAlign":"center","labelBaseline":"top","labelPadding":9,"title":"Azimuth(degrees)","titleX":-37.3,"titleY":184,"titleAngle":90,"titleAlign":"center","titleBaseline":"middle"}},
    "color":{"field":"s","type":"nominal","scale":{"domain":["RD1","RD2"],"range":["#000000","#ff0000"]},"legend":null},
    "order":{"field":"az","type":"quantitative"}}},
  {"data":{"values":[{"g":"y","v":20,"az":0},{"g":"y","v":20,"az":360},{"g":"x","v":20,"az":0},{"g":"x","v":324,"az":0}]},"mark":{"type":"line","strokeWidth":2,"color":"black"},"encoding":{"x":{"field":"v","type":"quantitative"},"y":{"field":"az","type":"quantitative"},"detail":{"field":"g","type":"nominal"}}},
  {"data":{"name":"xticks5"},"mark":{"type":"text","angle":90,"align":"right","baseline":"middle","fontSize":11,"color":"black"},"encoding":{"x":{"field":"v","type":"quantitative"},"y":{"field":"az","type":"quantitative"},"text":{"field":"v","type":"quantitative"}}},
  {"data":{"values":[{"v":289,"v2":326,"az":27,"az2":270}]},"mark":{"type":"rect","fill":"black"},"encoding":{"x":{"field":"v","type":"quantitative"},"x2":{"field":"v2"},"y":{"field":"az","type":"quantitative"},"y2":{"field":"az2"}}},
  {"data":{"values":[{"v":299,"v2":336,"az":23,"az2":262}]},"mark":{"type":"rect","fill":"white","stroke":"black","strokeWidth":1.2},"encoding":{"x":{"field":"v","type":"quantitative"},"x2":{"field":"v2"},"y":{"field":"az","type":"quantitative"},"y2":{"field":"az2"}}},
  {"data":{"values":[{"s":"RD1","v":322,"az":27},{"s":"RD1","v":322,"az":95},{"s":"RD2","v":322,"az":141},{"s":"RD2","v":322,"az":217}]},"mark":{"type":"line","strokeWidth":3},"encoding":{"x":{"field":"v","type":"quantitative"},"y":{"field":"az","type":"quantitative"},"color":{"field":"s","type":"nominal","scale":{"domain":["RD1","RD2"],"range":["#000000","#ff0000"]},"legend":null},"order":{"field":"az","type":"quantitative"}}},
  {"data":{"values":[{"s":"RD1","v":322,"az":117},{"s":"RD2","v":322,"az":241}]},"mark":{"type":"text","angle":90,"fontSize":13,"color":"black","align":"center","baseline":"middle"},"encoding":{"x":{"field":"v","type":"quantitative"},"y":{"field":"az","type":"quantitative"},"text":{"field":"s","type":"nominal"}}}
 ]},
 {"width":53,"height":316,"data":{"values":[{}]},"layer":[
  {"mark":{"type":"text","text":"a","font":"Liberation Serif","fontWeight":"bold","fontSize":21,"angle":90,"align":"center","baseline":"middle","color":"black"},
   "encoding":{"x":{"datum":0.283,"type":"quantitative","scale":{"domain":[0,1],"nice":false,"zero":false},"axis":null},"y":{"datum":0.03,"type":"quantitative","scale":{"domain":[0,1],"reverse":true,"nice":false,"zero":false},"axis":null}}},
  {"mark":{"type":"text","text":"Cartesian Azimuthal Graphs","font":"Liberation Serif","fontWeight":"bold","fontStyle":"italic","fontSize":13,"angle":90,"align":"center","baseline":"middle","color":"black"},
   "encoding":{"x":{"datum":0.566,"type":"quantitative","axis":null},"y":{"datum":0.354,"type":"quantitative","axis":null}}}
 ]},
 {"width":214,"height":90,"view":{"stroke":null},"layer":[
  {"data":{"name":"grid"},"transform":[{"filter":"datum.k!='label'"},{"calculate":"datum.r*cos(datum.az*PI/180)","as":"gx"},{"calculate":"datum.r*sin(datum.az*PI/180)","as":"gy"},{"calculate":"datum.k=='ring'?'r'+datum.r:'s'+datum.az","as":"grp"},{"calculate":"datum.k=='ring'?datum.az:datum.r","as":"ord"}],"mark":{"type":"line","color":"black","strokeWidth":1,"clip":true},
   "encoding":{"x":{"field":"gx","type":"quantitative","scale":{"domain":[-408,448],"nice":false,"zero":false},"axis":null},"y":{"field":"gy","type":"quantitative","scale":{"domain":[-496,-136],"reverse":true,"nice":false,"zero":false},"axis":null},"detail":{"field":"grp","type":"nominal"},"order":{"field":"ord","type":"quantitative"}}},
  {"data":{"name":"grid"},"transform":[{"filter":"datum.k=='label'"},{"calculate":"datum.r*cos(datum.az*PI/180)","as":"gx"},{"calculate":"datum.r*sin(datum.az*PI/180)","as":"gy"}],"mark":{"type":"text","fontSize":13,"angle":90,"align":"center","baseline":"middle","color":"black","clip":true},
   "encoding":{"x":{"field":"gx","type":"quantitative"},"y":{"field":"gy","type":"quantitative"},"text":{"field":"t","type":"nominal"}}},
  {"data":{"name":"curves"},"transform":[{"filter":"datum.p=='340'"},{"calculate":"datum.v*cos(datum.az*PI/180)","as":"gx"},{"calculate":"datum.v*sin(datum.az*PI/180)","as":"gy"}],"mark":{"type":"line","strokeWidth":2.5,"clip":true},
   "encoding":{"x":{"field":"gx","type":"quantitative"},"y":{"field":"gy","type":"quantitative"},"color":{"field":"s","type":"nominal","scale":{"domain":["RD1","RD2"],"range":["#000000","#ff0000"]},"legend":null},"order":{"field":"az","type":"quantitative"}}},
  {"data":{"values":[{}]},"mark":{"type":"rule","color":"black","strokeWidth":2},"encoding":{"x":{"datum":-408,"type":"quantitative"}}}
 ]},
 {"width":214,"height":90,"view":{"stroke":null},"layer":[
  {"data":{"name":"grid"},"transform":[{"filter":"datum.k!='label'"},{"calculate":"datum.r*cos(datum.az*PI/180)","as":"gx"},{"calculate":"datum.r*sin(datum.az*PI/180)","as":"gy"},{"calculate":"datum.k=='ring'?'r'+datum.r:'s'+datum.az","as":"grp"},{"calculate":"datum.k=='ring'?datum.az:datum.r","as":"ord"}],"mark":{"type":"line","color":"black","strokeWidth":1,"clip":true},
   "encoding":{"x":{"field":"gx","type":"quantitative","scale":{"domain":[-424,432],"nice":false,"zero":false},"axis":null},"y":{"field":"gy","type":"quantitative","scale":{"domain":[-496,-136],"reverse":true,"nice":false,"zero":false},"axis":null},"detail":{"field":"grp","type":"nominal"},"order":{"field":"ord","type":"quantitative"}}},
  {"data":{"name":"grid"},"transform":[{"filter":"datum.k=='label'"},{"calculate":"datum.r*cos(datum.az*PI/180)","as":"gx"},{"calculate":"datum.r*sin(datum.az*PI/180)","as":"gy"}],"mark":{"type":"text","fontSize":13,"angle":90,"align":"center","baseline":"middle","color":"black","clip":true},
   "encoding":{"x":{"field":"gx","type":"quantitative"},"y":{"field":"gy","type":"quantitative"},"text":{"field":"t","type":"nominal"}}},
  {"data":{"name":"curves"},"transform":[{"filter":"datum.p=='320'"},{"calculate":"datum.v*cos(datum.az*PI/180)","as":"gx"},{"calculate":"datum.v*sin(datum.az*PI/180)","as":"gy"}],"mark":{"type":"line","strokeWidth":2.5,"clip":true},
   "encoding":{"x":{"field":"gx","type":"quantitative"},"y":{"field":"gy","type":"quantitative"},"color":{"field":"s","type":"nominal","scale":{"domain":["RD1","RD2"],"range":["#000000","#ff0000"]},"legend":null},"order":{"field":"az","type":"quantitative"}}},
  {"data":{"values":[{}]},"mark":{"type":"rule","color":"black","strokeWidth":2},"encoding":{"x":{"datum":-424,"type":"quantitative"}}}
 ]},
 {"width":214,"height":90,"view":{"stroke":null},"layer":[
  {"data":{"name":"grid"},"transform":[{"filter":"datum.k!='label'"},{"calculate":"datum.r*cos(datum.az*PI/180)","as":"gx"},{"calculate":"datum.r*sin(datum.az*PI/180)","as":"gy"},{"calculate":"datum.k=='ring'?'r'+datum.r:'s'+datum.az","as":"grp"},{"calculate":"datum.k=='ring'?datum.az:datum.r","as":"ord"}],"mark":{"type":"line","color":"black","strokeWidth":1,"clip":true},
   "encoding":{"x":{"field":"gx","type":"quantitative","scale":{"domain":[-414,442],"nice":false,"zero":false},"axis":null},"y":{"field":"gy","type":"quantitative","scale":{"domain":[-496,-136],"reverse":true,"nice":false,"zero":false},"axis":null},"detail":{"field":"grp","type":"nominal"},"order":{"field":"ord","type":"quantitative"}}},
  {"data":{"name":"grid"},"transform":[{"filter":"datum.k=='label'"},{"calculate":"datum.r*cos(datum.az*PI/180)","as":"gx"},{"calculate":"datum.r*sin(datum.az*PI/180)","as":"gy"}],"mark":{"type":"text","fontSize":13,"angle":90,"align":"center","baseline":"middle","color":"black","clip":true},
   "encoding":{"x":{"field":"gx","type":"quantitative"},"y":{"field":"gy","type":"quantitative"},"text":{"field":"t","type":"nominal"}}},
  {"data":{"name":"curves"},"transform":[{"filter":"datum.p=='300'"},{"calculate":"datum.v*cos(datum.az*PI/180)","as":"gx"},{"calculate":"datum.v*sin(datum.az*PI/180)","as":"gy"}],"mark":{"type":"line","strokeWidth":2.5,"clip":true},
   "encoding":{"x":{"field":"gx","type":"quantitative"},"y":{"field":"gy","type":"quantitative"},"color":{"field":"s","type":"nominal","scale":{"domain":["RD1","RD2"],"range":["#000000","#ff0000"]},"legend":null},"order":{"field":"az","type":"quantitative"}}},
  {"data":{"values":[{}]},"mark":{"type":"rule","color":"black","strokeWidth":2},"encoding":{"x":{"datum":-414,"type":"quantitative"}}}
 ]},
 {"width":215,"height":90,"view":{"stroke":null},"layer":[
  {"data":{"name":"grid"},"transform":[{"filter":"datum.k!='label'"},{"calculate":"datum.r*cos(datum.az*PI/180)","as":"gx"},{"calculate":"datum.r*sin(datum.az*PI/180)","as":"gy"},{"calculate":"datum.k=='ring'?'r'+datum.r:'s'+datum.az","as":"grp"},{"calculate":"datum.k=='ring'?datum.az:datum.r","as":"ord"}],"mark":{"type":"line","color":"black","strokeWidth":1,"clip":true},
   "encoding":{"x":{"field":"gx","type":"quantitative","scale":{"domain":[-438,422],"nice":false,"zero":false},"axis":null},"y":{"field":"gy","type":"quantitative","scale":{"domain":[-496,-136],"reverse":true,"nice":false,"zero":false},"axis":null},"detail":{"field":"grp","type":"nominal"},"order":{"field":"ord","type":"quantitative"}}},
  {"data":{"name":"grid"},"transform":[{"filter":"datum.k=='label'"},{"calculate":"datum.r*cos(datum.az*PI/180)","as":"gx"},{"calculate":"datum.r*sin(datum.az*PI/180)","as":"gy"}],"mark":{"type":"text","fontSize":13,"angle":90,"align":"center","baseline":"middle","color":"black","clip":true},
   "encoding":{"x":{"field":"gx","type":"quantitative"},"y":{"field":"gy","type":"quantitative"},"text":{"field":"t","type":"nominal"}}},
  {"data":{"name":"curves"},"transform":[{"filter":"datum.p=='280'"},{"calculate":"datum.v*cos(datum.az*PI/180)","as":"gx"},{"calculate":"datum.v*sin(datum.az*PI/180)","as":"gy"}],"mark":{"type":"line","strokeWidth":2.5,"clip":true},
   "encoding":{"x":{"field":"gx","type":"quantitative"},"y":{"field":"gy","type":"quantitative"},"color":{"field":"s","type":"nominal","scale":{"domain":["RD1","RD2"],"range":["#000000","#ff0000"]},"legend":null},"order":{"field":"az","type":"quantitative"}}},
  {"data":{"values":[{}]},"mark":{"type":"rule","color":"black","strokeWidth":2},"encoding":{"x":{"datum":-438,"type":"quantitative"}}}
 ]},
 {"width":214,"height":90,"view":{"stroke":null},"layer":[
  {"data":{"name":"grid"},"transform":[{"filter":"datum.k!='label'"},{"calculate":"datum.r*cos(datum.az*PI/180)","as":"gx"},{"calculate":"datum.r*sin(datum.az*PI/180)","as":"gy"},{"calculate":"datum.k=='ring'?'r'+datum.r:'s'+datum.az","as":"grp"},{"calculate":"datum.k=='ring'?datum.az:datum.r","as":"ord"}],"mark":{"type":"line","color":"black","strokeWidth":1,"clip":true},
   "encoding":{"x":{"field":"gx","type":"quantitative","scale":{"domain":[-430.4,425.6],"nice":false,"zero":false},"axis":null},"y":{"field":"gy","type":"quantitative","scale":{"domain":[-496,-136],"reverse":true,"nice":false,"zero":false},"axis":null},"detail":{"field":"grp","type":"nominal"},"order":{"field":"ord","type":"quantitative"}}},
  {"data":{"name":"grid"},"transform":[{"filter":"datum.k=='label'"},{"calculate":"datum.r*cos(datum.az*PI/180)","as":"gx"},{"calculate":"datum.r*sin(datum.az*PI/180)","as":"gy"}],"mark":{"type":"text","fontSize":13,"angle":90,"align":"center","baseline":"middle","color":"black","clip":true},
   "encoding":{"x":{"field":"gx","type":"quantitative"},"y":{"field":"gy","type":"quantitative"},"text":{"field":"t","type":"nominal"}}},
  {"data":{"name":"curves"},"transform":[{"filter":"datum.p=='240'"},{"calculate":"datum.v*cos(datum.az*PI/180)","as":"gx"},{"calculate":"datum.v*sin(datum.az*PI/180)","as":"gy"}],"mark":{"type":"line","strokeWidth":2.5,"clip":true},
   "encoding":{"x":{"field":"gx","type":"quantitative"},"y":{"field":"gy","type":"quantitative"},"color":{"field":"s","type":"nominal","scale":{"domain":["RD1","RD2"],"range":["#000000","#ff0000"]},"legend":null},"order":{"field":"az","type":"quantitative"}}},
  {"data":{"values":[{}]},"mark":{"type":"rule","color":"black","strokeWidth":2},"encoding":{"x":{"datum":-430.4,"type":"quantitative"}}}
 ]},
 {"width":53,"height":90,"view":{"stroke":null},"data":{"values":[{}]},"layer":[
  {"mark":{"type":"text","text":"b","font":"Liberation Serif","fontWeight":"bold","fontSize":21,"angle":90,"align":"center","baseline":"middle","color":"black"},
   "encoding":{"x":{"datum":0.245,"type":"quantitative","scale":{"domain":[0,1],"nice":false,"zero":false},"axis":null},"y":{"datum":0.2,"type":"quantitative","scale":{"domain":[0,1],"reverse":true,"nice":false,"zero":false},"axis":null}}},
  {"mark":{"type":"text","text":"Polar Azimuthal Graphs","font":"Liberation Serif","fontWeight":"bold","fontStyle":"italic","fontSize":13,"angle":90,"align":"left","baseline":"middle","color":"black","clip":true},
   "encoding":{"x":{"datum":0.7,"type":"quantitative"},"y":{"datum":0.16,"type":"quantitative"}}},
  {"mark":{"type":"rule","color":"black","strokeWidth":2},"encoding":{"x":{"datum":0,"type":"quantitative"}}},
  {"mark":{"type":"rule","color":"black","strokeWidth":2},"encoding":{"x":{"datum":1,"type":"quantitative"}}}
 ]}
]
}
